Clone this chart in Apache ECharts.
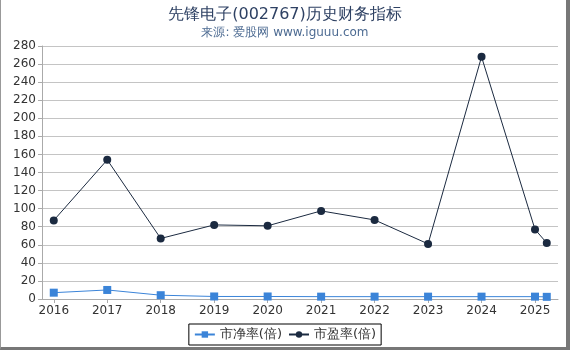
<!DOCTYPE html>
<html><head><meta charset="utf-8">
<script src="https://cdn.jsdelivr.net/npm/echarts@6/dist/echarts.min.js"></script>
<style>html,body{margin:0;padding:0;background:#fff}
#frame{position:absolute;left:0;top:0;width:570px;height:350px;box-sizing:border-box;border-left:1px solid #999;border-right:4px solid #777;border-bottom:3px solid #777}
#c{position:absolute;left:0;top:0;width:570px;height:350px}</style>
</head><body><div id="c"></div><div id="frame"></div>
<script>
var title = '先锋电子(002767)历史财务指标';
var subtitle = '来源: 爱股网 www.iguuu.com';
var years = [2016, 2017, 2018, 2019, 2020, 2021, 2022, 2023, 2024, 2025, 2025.22];
var tickYears = [2016, 2017, 2018, 2019, 2020, 2021, 2022, 2023, 2024, 2025];
var pb = [7, 10, 4.2, 2.8, 2.8, 2.6, 2.6, 2.6, 2.6, 2.6, 2.4];
var pe = [87, 154, 67, 82, 81, 97.5, 87.5, 61, 268, 77, 62];
var seriesNames = ['市净率(倍)', '市盈率(倍)'];

function pairs(xs, ys){ return xs.map(function(x,i){return [x, ys[i]];}); }
var chart = echarts.init(document.getElementById('c'));
var font = 'DejaVu Sans';
chart.setOption({
  animation: false,
  title: {text: title, subtext: subtitle, left: 'center', top: 2, itemGap: 4,
    textStyle: {fontFamily: font, fontSize: 16, fontWeight: 'normal', color: '#2e4163'},
    subtextStyle: {fontFamily: font, fontSize: 12, color: '#4d6b92'}},
  legend: {bottom: 5, left: 'center', borderColor: '#000', borderWidth: 1, borderRadius: 0,
    padding: [4, 5], itemWidth: 20, itemHeight: 8, itemGap: 6,
    textStyle: {fontFamily: font, fontSize: 13, color: '#333'},
    data: seriesNames},
  grid: {left: 42, right: 12, top: 46, bottom: 51, containLabel: false},
  xAxis: {type: 'value', min: 2015.78, max: 2025.43,
    axisLine: {lineStyle: {color: '#aaa'}},
    axisTick: {customValues: tickYears, length: 4, lineStyle: {color: '#aaa'}},
    axisLabel: {customValues: tickYears, fontFamily: font, fontSize: 12, color: '#333', margin: 6,
      formatter: function(v){ return String(Math.round(v)); }},
    splitLine: {show: false}},
  yAxis: {type: 'value', min: 0, max: 280, interval: 20,
    axisLine: {show: true, lineStyle: {color: '#aaa'}},
    axisTick: {show: true, length: 4, lineStyle: {color: '#aaa'}},
    axisLabel: {fontFamily: font, fontSize: 12, color: '#333', margin: 6},
    splitLine: {lineStyle: {color: '#c4c4c4'}}},
  series: [
    {name: seriesNames[0], type: 'line', data: pairs(years, pb), symbol: 'rect', symbolSize: 8,
      lineStyle: {color: '#3b84d8', width: 1}, itemStyle: {color: '#3b84d8'}},
    {name: seriesNames[1], type: 'line', data: pairs(years, pe), symbol: 'circle', symbolSize: 8,
      lineStyle: {color: '#1b2a40', width: 1}, itemStyle: {color: '#1b2a40'}}
  ]
});
</script></body></html>
